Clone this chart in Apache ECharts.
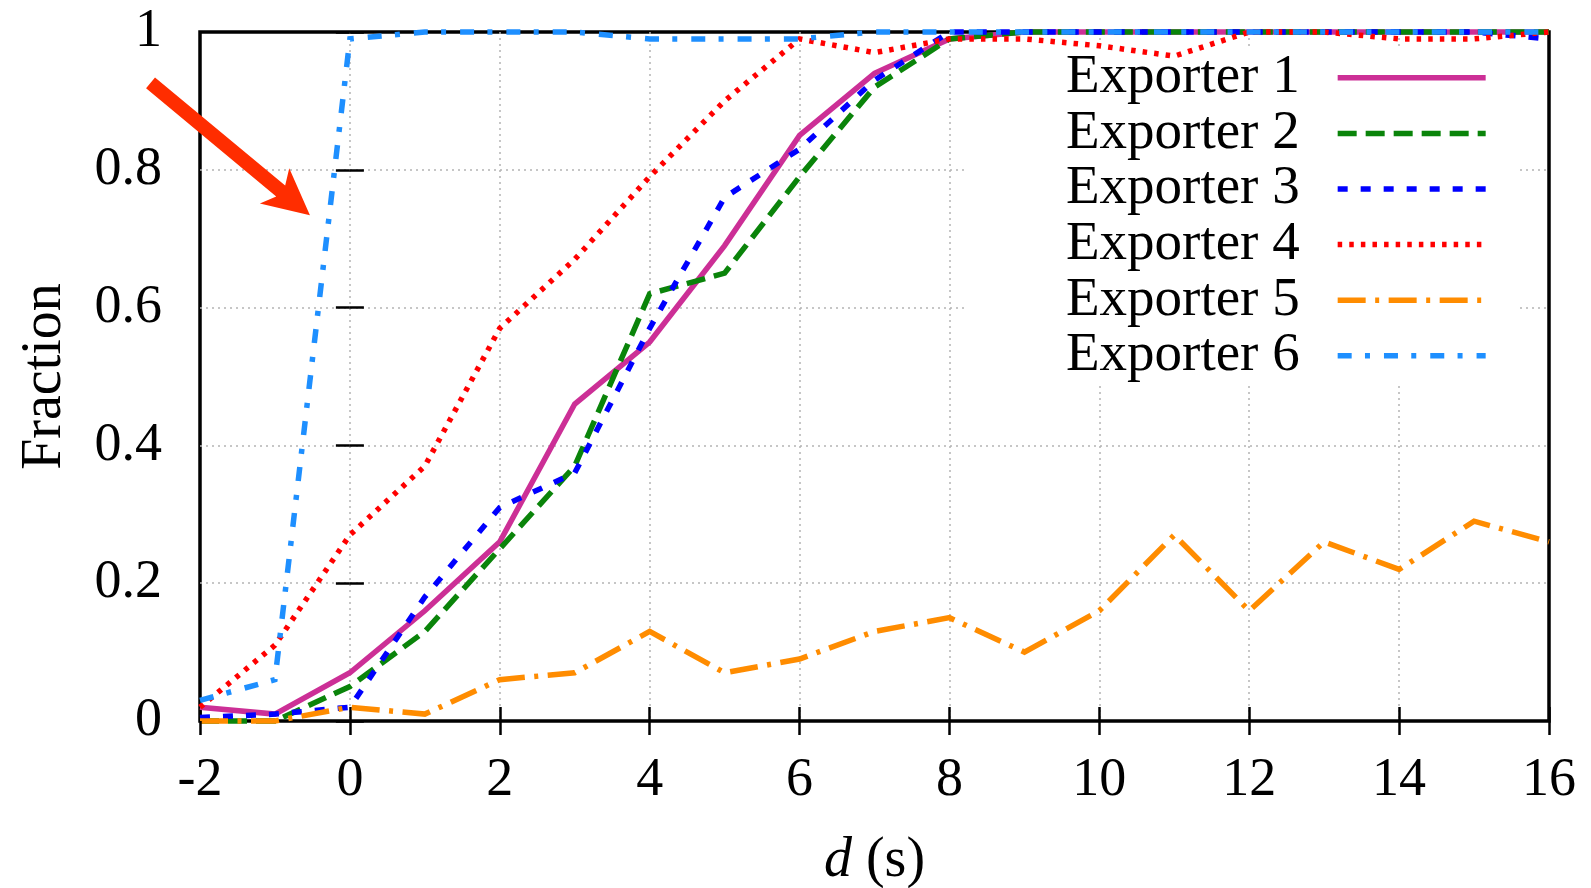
<!DOCTYPE html>
<html>
<head>
<meta charset="utf-8">
<script src="https://cdn.jsdelivr.net/npm/echarts@6/dist/echarts.min.js"></script>
<style>html,body{margin:0;padding:0;background:#fff;}#c{width:1591px;height:888px;}</style>
</head>
<body>
<div id="c"></div>
<script>
// ---- data ----
const dValues = [-2,-1,0,1,2,3,4,5,6,7,8,9,10,11,12,13,14,15,16];
const seriesNames = ['Exporter 1','Exporter 2','Exporter 3','Exporter 4','Exporter 5','Exporter 6'];
const exporter1 = [0.02,0.01,0.07,0.16,0.26,0.46,0.55,0.69,0.85,0.94,0.99,1,1,1,1,1,1,1,1];
const exporter2 = [0,0,0.05,0.13,0.25,0.37,0.62,0.65,0.79,0.92,0.99,1,1,1,1,1,1,1,1];
const exporter3 = [0.005,0.01,0.02,0.18,0.31,0.36,0.57,0.76,0.83,0.93,1,1,1,1,1,1,1,1,0.99];
const exporter4 = [0.02,0.11,0.27,0.37,0.57,0.67,0.79,0.90,0.99,0.97,0.99,0.99,0.98,0.965,1,1,0.99,0.99,1];
const exporter5 = [0,0,0.02,0.01,0.06,0.07,0.13,0.07,0.09,0.13,0.15,0.10,0.16,0.27,0.16,0.26,0.22,0.29,0.26];
const exporter6 = [0.03,0.06,0.99,1,1,1,0.99,0.99,0.99,1,1,1,1,1,1,1,1,1,1];
const xTicks = {min:-2, max:16, interval:2};
const yTicks = {min:0, max:1, interval:0.2};
const arrowFrom = [-2.66, 0.926];
const arrowTo = [-0.533, 0.734];

// ---- styles ----
const FONT = '"Liberation Serif", "DejaVu Serif", serif';
const LW = 5.5;
const styles = [
  {color:'#cc2f96', type:'solid'},
  {color:'#0a840a', type:[19,9]},
  {color:'#0000ff', type:[10,13]},
  {color:'#ff0000', type:[4.5,7.1]},
  {color:'#ff8c00', type:[28,9.5,4,9.5]},
  {color:'#1e8fff', type:[14,13.3,5,14]}
];
const allData = [exporter1,exporter2,exporter3,exporter4,exporter5,exporter6];

const chart = echarts.init(document.getElementById('c'), null, {renderer:'canvas'});

const tickStyle = {show:true, inside:true, length:14, lineStyle:{color:'#000', width:2.5}};
const gridLine = {show:true, showMinLine:false, showMaxLine:false, lineStyle:{color:'#b4b4b4', width:1.5, type:[2,4]}};
const option = {
  backgroundColor:'#fff',
  animation:false,
  grid:{left:200, right:42, top:32, bottom:167, show:true, borderColor:'#000', borderWidth:3.5,
        backgroundColor:'transparent', containLabel:false, outerBoundsMode:'none'},
  legend:{
    orient:'vertical', left:967, top:48, align:'right', z:1,
    backgroundColor:'#fff', padding:[2,29,0,99],
    itemWidth:148, itemHeight:14, itemGap:0,
    itemStyle:{opacity:0, color:'rgba(0,0,0,0)', borderWidth:0},
    lineStyle:{width:LW, cap:'butt'},
    textStyle:{fontFamily:FONT, fontSize:55, color:'#000', lineHeight:55.6, padding:[0,33,0,0]},
    data:seriesNames
  },
  xAxis:[{
    type:'value', min:xTicks.min, max:xTicks.max, interval:xTicks.interval, position:'bottom',
    axisLine:{show:false}, axisTick:tickStyle,
    axisLabel:{fontFamily:FONT, fontSize:54, color:'#000', margin:33},
    splitLine:gridLine,
    name:'{i|d} (s)', nameLocation:'middle', nameGap:112,
    nameTextStyle:{fontFamily:FONT, fontSize:56, color:'#000', rich:{i:{fontFamily:FONT, fontSize:56, fontStyle:'italic', color:'#000'}}}
  },{
    type:'value', min:xTicks.min, max:xTicks.max, interval:xTicks.interval, position:'top', z:5,
    axisLine:{show:false}, axisTick:tickStyle, axisLabel:{show:false}, splitLine:{show:false}
  }],
  yAxis:[{
    type:'value', min:yTicks.min, max:yTicks.max, interval:yTicks.interval, position:'left',
    axisLine:{show:false}, axisTick:tickStyle,
    axisLabel:{fontFamily:FONT, fontSize:54, color:'#000', margin:38},
    splitLine:gridLine,
    name:'Fraction', nameLocation:'middle', nameGap:127, nameRotate:90,
    nameTextStyle:{fontFamily:FONT, fontSize:56, color:'#000'}
  },{
    type:'value', min:yTicks.min, max:yTicks.max, interval:yTicks.interval, position:'right', z:5,
    axisLine:{show:false}, axisTick:tickStyle, axisLabel:{show:false}, splitLine:{show:false}
  }],
  series: allData.map((arr,i)=>({
    name:seriesNames[i], type:'line', xAxisIndex:0, yAxisIndex:0,
    data: dValues.map((d,j)=>[d, arr[j]]),
    symbol:'none', showSymbol:false, clip:false, z:2+i*0.01,
    lineStyle:{color:styles[i].color, type:styles[i].type, width:LW, cap:'butt', join:'miter'},
    itemStyle:{color:styles[i].color}
  }))
};
chart.setOption(option);

// annotation arrow (positioned in data coordinates)
function drawArrow(){
  const p0 = chart.convertToPixel({gridIndex:0}, arrowFrom);
  const p1 = chart.convertToPixel({gridIndex:0}, arrowTo);
  const dx = p1[0]-p0[0], dy = p1[1]-p0[1];
  const L = Math.hypot(dx,dy);
  const ux = dx/L, uy = dy/L, nx = -uy, ny = ux;
  const headLen = 46, headHalf = 23, shaftHalf = 7, notch = 8;
  const bx = p1[0]-ux*headLen, by = p1[1]-uy*headLen;
  const jx = bx+ux*notch, jy = by+uy*notch;
  const pts = [
    [p0[0]+nx*shaftHalf, p0[1]+ny*shaftHalf],
    [jx+nx*shaftHalf, jy+ny*shaftHalf],
    [bx+nx*headHalf, by+ny*headHalf],
    [p1[0], p1[1]],
    [bx-nx*headHalf, by-ny*headHalf],
    [jx-nx*shaftHalf, jy-ny*shaftHalf],
    [p0[0]-nx*shaftHalf, p0[1]-ny*shaftHalf]
  ];
  chart.setOption({graphic:[{type:'polygon', z:10, shape:{points:pts}, style:{fill:'#ff2d00'}}]});
}
drawArrow();
</script>
</body>
</html>
